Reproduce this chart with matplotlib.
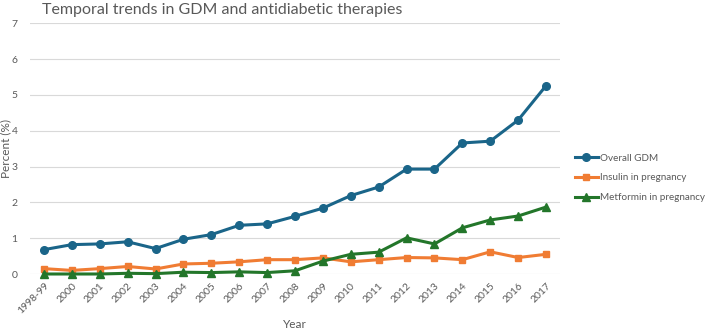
import matplotlib
matplotlib.use("Agg")
import matplotlib.pyplot as plt

years = ["1998-99", "2000", "2001", "2002", "2003", "2004", "2005", "2006", "2007", "2008",
         "2009", "2010", "2011", "2012", "2013", "2014", "2015", "2016", "2017"]
overall_gdm = [0.68, 0.82, 0.84, 0.90, 0.71, 0.97, 1.10, 1.36, 1.40, 1.61,
               1.84, 2.19, 2.43, 2.93, 2.93, 3.66, 3.71, 4.30, 5.26]
insulin = [0.15, 0.10, 0.15, 0.21, 0.14, 0.28, 0.30, 0.34, 0.40, 0.40,
           0.45, 0.34, 0.40, 0.46, 0.45, 0.40, 0.62, 0.46, 0.55]
metformin = [0.0, 0.0, 0.0, 0.02, 0.01, 0.05, 0.04, 0.06, 0.04, 0.09,
             0.36, 0.55, 0.61, 1.01, 0.84, 1.29, 1.51, 1.62, 1.87]

plt.rcParams['font.family'] = ['Lato', 'DejaVu Sans']
text_grey = "#595959"
W, H = 709, 331

fig = plt.figure(figsize=(7.09, 3.31), dpi=100)
ax = fig.add_axes([30 / W, 57 / H, 530 / W, 250.6 / H])

x = list(range(len(years)))
ax.plot(x, overall_gdm, color="#1a6589", lw=2.2, marker="o", ms=5.5, label="Overall GDM", clip_on=False, zorder=3)
ax.plot(x, insulin, color="#f07c33", lw=2.2, marker="s", ms=5, label="Insulin in pregnancy", clip_on=False, zorder=3)
ax.plot(x, metformin, color="#23762a", lw=2.2, marker="^", ms=5.5, label="Metformin in pregnancy", clip_on=False, zorder=3)

ax.set_xlim(-0.5, len(years) - 0.5)
ax.set_ylim(0, 7)
ax.set_yticks(range(0, 8))
ax.set_xticks(x)
ax.set_xticklabels(years, rotation=45, ha="right", rotation_mode="anchor")
ax.grid(axis="y", color="#d9d9d9", lw=0.8)
ax.set_axisbelow(True)
for s in ax.spines.values():
    s.set_visible(False)
ax.tick_params(axis="both", length=0, labelsize=7.5, labelcolor=text_grey)
ax.tick_params(axis="y", pad=9)
ax.tick_params(axis="x", pad=5)

# axis titles placed directly, like the reference
fig.text(295 / W, 1 - 325 / H, "Year", fontsize=8.5, color=text_grey, ha="center", va="center")
fig.text(6 / W, 1 - 148 / H, "Percent (%)", fontsize=8.5, color=text_grey,
         ha="center", va="center", rotation=90)
fig.text(42 / W, 1 - 10 / H, "Temporal trends in GDM and antidiabetic therapies",
         fontsize=11.5, color=text_grey, va="center", ha="left")

leg = ax.legend(loc="center left", bbox_to_anchor=(575 / W, 1 - 178 / H),
                bbox_transform=fig.transFigure, frameon=False, fontsize=7.1,
                handlelength=2.3, handletextpad=0.2, labelspacing=1.1,
                borderpad=0, borderaxespad=0)
for t in leg.get_texts():
    t.set_color(text_grey)

fig.savefig("out.png", dpi=100)
